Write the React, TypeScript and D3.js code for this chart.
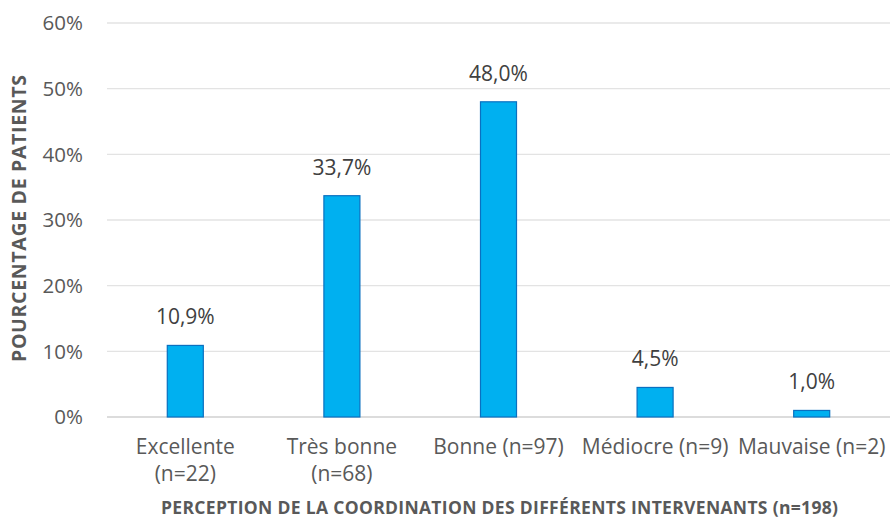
import React from "react";
import * as d3 from "d3";

const categories = [["Excellente", "(n=22)"], ["Très bonne", "(n=68)"], ["Bonne (n=97)"], ["Médiocre (n=9)"], ["Mauvaise (n=2)"]];
const values = [10.9, 33.7, 48.0, 4.5, 1.0];
const yTicks = [0, 10, 20, 30, 40, 50, 60];
const yTitle = "POURCENTAGE DE PATIENTS";
const xTitle = "PERCEPTION DE LA COORDINATION DES DIFFÉRENTS INTERVENANTS (n=198)";

const W = 890, H = 522;
const left = 107, right = 890, top = 23, bottom = 417;
const font = "'Open Sans', sans-serif";

export default function App() {
  const x = d3.scaleBand<number>().domain(d3.range(values.length)).range([left, right]).paddingInner(0.77).paddingOuter(0.385);
  const y = d3.scaleLinear().domain([0, 60]).range([bottom, top]);
  const fmt = (v: number) => v.toFixed(1).replace(".", ",") + "%";
  return (
    <svg width={W} height={H} style={{ position: "absolute", left: 0, top: 0 }} fontFamily={font}>
      <rect width={W} height={H} fill="#fff" />
      {yTicks.map((t) => (
        <g key={t}>
          <line x1={left} x2={right} y1={y(t)} y2={y(t)} stroke={t === 0 ? "#d0d0d0" : "#e3e3e3"} strokeWidth={1.3} />
          <text x={83} y={y(t)} dy="0.36em" textAnchor="end" fontSize={20.5} fill="#595959">{t}%</text>
        </g>
      ))}
      {values.map((v, i) => (
        <g key={i}>
          <rect x={x(i)} y={y(v)} width={x.bandwidth()} height={bottom - y(v)} fill="#00B0F0" stroke="#0A70C0" strokeWidth={1.2} />
          <text x={x(i)! + x.bandwidth() / 2} y={y(v) - 21} textAnchor="middle" fontSize={21} fill="#404040">{fmt(v)}</text>
        </g>
      ))}
      {categories.map((c, i) => (
        <text key={i} x={x(i)! + x.bandwidth() / 2} y={454} textAnchor="middle" fontSize={21} fill="#595959">
          {c.map((l, j) => (
            <tspan key={j} x={x(i)! + x.bandwidth() / 2} dy={j === 0 ? 0 : 27}>{l}</tspan>
          ))}
        </text>
      ))}
      <text x={499.5} y={514} textAnchor="middle" fontSize={17.5} fontWeight="bold" fill="#595959" textLength={677} lengthAdjust="spacing">{xTitle}</text>
      <text transform={`translate(26,218.5) rotate(-90)`} textAnchor="middle" fontSize={19.5} fontWeight="bold" fill="#595959" textLength={287} lengthAdjust="spacing">{yTitle}</text>
    </svg>
  );
}
